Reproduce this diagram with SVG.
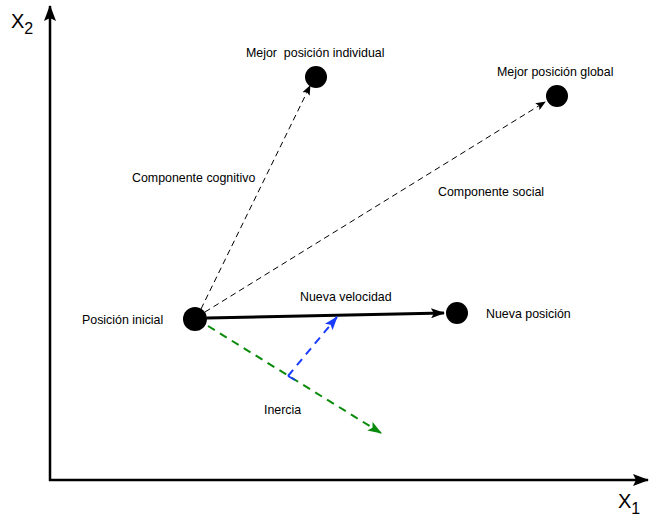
<svg xmlns="http://www.w3.org/2000/svg" width="659" height="520" viewBox="0 0 659 520">
<style>
text{font-family:"Liberation Sans",Arial,sans-serif;font-size:12.4px;fill:#000}
.ax{font-size:20px}
.sub{font-size:16px}
.dot{fill:#000}
.dash{stroke:#000;stroke-width:1;stroke-dasharray:6,4;fill:none}
</style>
<defs>
<marker id="ah" markerWidth="10" markerHeight="8" refX="9" refY="4" orient="auto" markerUnits="userSpaceOnUse"><path d="M0,0 L10,4 L0,8 L2,4 Z" fill="#000"/></marker>
<marker id="ahb" markerWidth="14" markerHeight="10" refX="13" refY="5" orient="auto" markerUnits="userSpaceOnUse"><path d="M0,0 L14,5 L0,10 L3,5 Z" fill="#000"/></marker>
<marker id="ahax" markerWidth="16" markerHeight="12" refX="15" refY="6" orient="auto" markerUnits="userSpaceOnUse"><path d="M0,0 L16,6 L0,12 L3,6 Z" fill="#000"/></marker>
<marker id="ahg" markerWidth="14" markerHeight="10" refX="13" refY="5" orient="auto" markerUnits="userSpaceOnUse"><path d="M0,0 L14,5 L0,10 L3,5 Z" fill="#0a8a0a"/></marker>
<marker id="ahbl" markerWidth="14" markerHeight="10" refX="13" refY="5" orient="auto" markerUnits="userSpaceOnUse"><path d="M0,0 L14,5 L0,10 L3,5 Z" fill="#1a3cff"/></marker>
</defs>
<g id="axes">
<line x1="50" y1="481" x2="50" y2="6" stroke="#000" stroke-width="2.5" marker-end="url(#ahax)"/>
<line x1="49" y1="480" x2="648" y2="480" stroke="#000" stroke-width="2.5" marker-end="url(#ahax)"/>
<text class="ax" x="11" y="28">X<tspan class="sub" dy="6">2</tspan></text>
<text class="ax" x="618" y="508">X<tspan class="sub" dy="6">1</tspan></text>
</g>
<g id="connectors">
<line class="dash" x1="201" y1="309" x2="310" y2="86" marker-end="url(#ah)"/>
<line class="dash" x1="205" y1="312" x2="545" y2="102" marker-end="url(#ah)"/>
<line x1="207" y1="318" x2="444" y2="313" stroke="#000" stroke-width="3" marker-end="url(#ahb)"/>
<line x1="208" y1="326" x2="381" y2="433" stroke="#0a8a0a" stroke-width="2" stroke-dasharray="8,6" marker-end="url(#ahg)"/>
<line x1="288" y1="376" x2="337" y2="317" stroke="#1a3cff" stroke-width="2" stroke-dasharray="8,6" marker-end="url(#ahbl)"/>
<line x1="288" y1="376" x2="295" y2="380" stroke="#1a3cff" stroke-width="2"/>
<text x="132" y="182">Componente cognitivo</text>
<text x="438" y="196">Componente social</text>
<text x="300" y="301">Nueva velocidad</text>
<text x="264" y="414">Inercia</text>
</g>
<g id="inicial">
<circle class="dot" cx="195" cy="319" r="12"/>
<text x="82" y="324">Posición inicial</text>
</g>
<g id="individual">
<circle class="dot" cx="316" cy="77" r="11"/>
<text x="246" y="57" xml:space="preserve">Mejor  posición individual</text>
</g>
<g id="global">
<circle class="dot" cx="557" cy="96" r="11"/>
<text x="497" y="76">Mejor posición global</text>
</g>
<g id="nueva">
<circle class="dot" cx="457" cy="313" r="11"/>
<text x="486" y="318">Nueva posición</text>
</g>
</svg>
